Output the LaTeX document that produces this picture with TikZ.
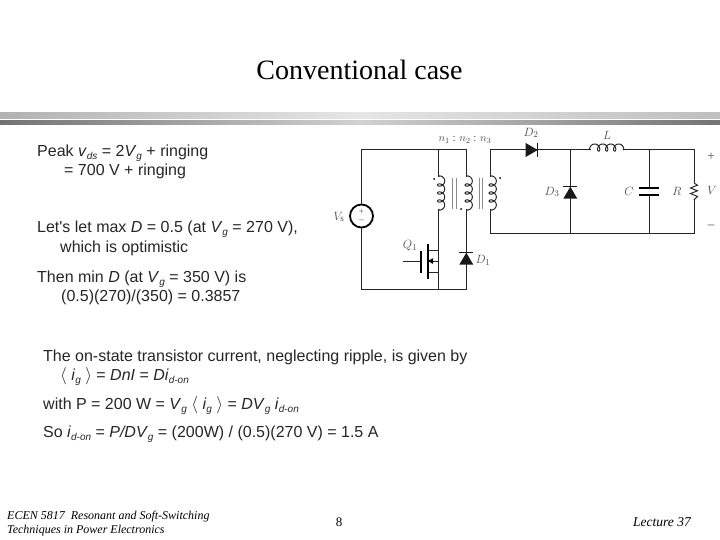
\documentclass[tikz,border=0pt]{standalone}
\usepackage{fontspec}
\setmainfont{Liberation Serif}
\newfontfamily\bodyfont{Liberation Sans}
\newcommand{\lowtext}[1]{\raisebox{-3pt}{\fontsize{10}{10}\selectfont\itshape #1}}
\newcommand{\mth}[1]{\textit{#1}}
\tikzset{
  bodyline/.style={anchor=base west,inner sep=0pt,font=\bodyfont\fontsize{16}{18}\selectfont,text=black!85},
  footline/.style={anchor=base west,inner sep=0pt,font=\itshape\fontsize{12}{14}\selectfont},
  partlabel/.style={inner sep=0pt,font=\itshape\fontsize{13}{14}\selectfont,text=black!70},
  wire/.style={line width=1pt,black!85},
  pics/coilv/.style={code={
    \draw[wire] (0,0) -- plot[domain=60:1380,samples=160,variable=\t]
      ({3.6*(1-cos(\t))-1.2},{\t/45-2.8*sin(\t)}) -- (0,32);
  }},
  pics/diodeup/.style={code={
    \fill[black!90] (-6,-7) -- (6,0) -- (-6,7) -- cycle;
    \draw[line width=1.2pt,black!90] (6,-7) -- (6,7);
  }},
}
\begin{document}
\begin{tikzpicture}[x=1pt,y=-1pt]
  \useasboundingbox (0,0) rectangle (720,540);
  % header bands
  \fill[left color=black!30,right color=black!10] (0,113) rectangle (360,119);
  \fill[left color=black!10,right color=black!25] (360,113) rectangle (720,119);
  \fill[left color=black!55,right color=black!18] (0,121) rectangle (360,125);
  \fill[left color=black!18,right color=black!55] (360,121) rectangle (720,125);
  \node[anchor=base,inner sep=0pt,font=\fontsize{28}{30}\selectfont] (title) at (359.5,80) {Conventional case};
  % text on the left
  \node[bodyline] (peak) at (37,156.5) {Peak \mth{v}\lowtext{ds} = 2\mth{V}\lowtext{g} + ringing};
  \node[bodyline] (peakb) at (64,176) {= 700 V + ringing};
  \node[bodyline] (maxd) at (37,233) {Let's let max \mth{D} = 0.5 (at \mth{V}\lowtext{g} = 270 V),};
  \node[bodyline] (maxdb) at (60,252) {which is optimistic};
  \node[bodyline] (mind) at (37,282) {Then min \mth{D} (at \mth{V}\lowtext{g} = 350 V) is};
  \node[bodyline] (mindb) at (61,301) {(0.5)(270)/(350) = 0.3857};
  \node[bodyline] (onst) at (43,361) {The on-state transistor current, neglecting ripple, is given by};
  \node[bodyline] (onstb) at (60,380.5) {$\langle$ \mth{i}\lowtext{g} $\rangle$ = \mth{DnI} = \mth{Di}\lowtext{d-on}};
  \node[bodyline] (power) at (43,409) {with P = 200 W = \mth{V}\lowtext{g} $\langle$ \mth{i}\lowtext{g} $\rangle$ = \mth{DV}\lowtext{g} \mth{i}\lowtext{d-on}};
  \node[bodyline] (idon) at (43,437.5) {So \mth{i}\lowtext{d-on} = \mth{P/DV}\lowtext{g} = (200W) / (0.5)(270 V) = 1.5 A};
  % footer
  \node[footline] (foota) at (7,519) {ECEN 5817~ Resonant and Soft-Switching};
  \node[footline] (footb) at (7,533) {Techniques in Power Electronics};
  \node[anchor=base,inner sep=0pt,font=\fontsize{13}{14}\selectfont] (page) at (339,526) {8};
  \node[footline,anchor=base east,font=\itshape\fontsize{13.5}{14}\selectfont] (lect) at (691,526) {Lecture 37};
  % circuit points
  \path
    (361.5,150) coordinate (tl)
    (361.5,289) coordinate (bl)
    (438.7,150) coordinate (pa)
    (438.7,177) coordinate (pb)
    (438.7,209) coordinate (pc)
    (438.7,289) coordinate (pd)
    (466.3,150) coordinate (sa)
    (466.3,177) coordinate (sb)
    (466.3,209) coordinate (sc)
    (466.3,289) coordinate (sd)
    (490.3,150) coordinate (ta)
    (490.3,177) coordinate (tb)
    (490.3,209) coordinate (tc)
    (490.3,233) coordinate (td)
    (570.3,150) coordinate (da)
    (570.3,233) coordinate (db)
    (590.7,150) coordinate (la)
    (622.7,150) coordinate (lb)
    (649.3,150) coordinate (ca)
    (649.3,188) coordinate (cb)
    (649.3,195) coordinate (cc)
    (649.3,233) coordinate (cd)
    (694,150) coordinate (ra)
    (694,183) coordinate (rb)
    (694,200) coordinate (rc)
    (694,233) coordinate (rd)
    (438.7,250.7) coordinate (qd)
    (438.7,272) coordinate (qs)
    (438.7,261) coordinate (qm)
    (427.7,250.7) coordinate (chd)
    (427.7,272) coordinate (chs)
    (427.7,261) coordinate (chm)
    (427.7,244) coordinate (cht)
    (427.7,279) coordinate (chb)
    (421,251) coordinate (gt)
    (421,273) coordinate (gb)
    (421,261) coordinate (gm)
    (402.7,261) coordinate (gin);
  \node[circle,draw=black,line width=1.8pt,minimum size=23pt,inner sep=0pt] (Vs) at (361.5,216) {};
  \begin{scope}[wire]
    \draw (Vs.north) -- (tl) -- (sa) -- (sb);
    \draw (Vs.south) -- (bl) -- (sd) -- (sc);
    \draw (pa) -- (pb);
    \draw (pc) -- (pd);
    \draw (tb) -- (ta) -- (la);
    \draw (lb) -- (ra) -- (rb);
    \draw (tc) -- (td) -- (rd) -- (rc);
    \draw (da) -- (db);
    \draw (ca) -- (cb);
    \draw (cc) -- (cd);
    \draw (rb) -- ++(3.5,2.2) -- ++(-7,2.8) -- ++(7,2.8) -- ++(-7,2.8) -- ++(7,2.8) -- ++(-3.5,3.4) -- (rc);
    \draw (gin) -- (gm);
    \draw (chd) -- (qd);
    \draw (chs) -- (qs);
    \draw (qm) -- (chm);
  \end{scope}
  \fill[black] (427.7,261) -- (433,258.2) -- (433,263.8) -- cycle;
  \draw[line width=1.6pt] (gt) -- (gb);
  \draw[line width=1.6pt] (cht) -- (chb);
  \draw[line width=2.4pt] (639,188) -- (659,188);
  \draw[line width=2.4pt] (639,195) -- (659,195);
  % windings and core
  \pic at (pb) {coilv};
  \pic at (sb) {coilv};
  \pic at (tb) {coilv};
  \pic[rotate=90] at (la) {coilv};
  \draw[black!45,line width=0.9pt] (452.7,178) -- (452.7,209) (456.3,178) -- (456.3,209);
  \draw[black!45,line width=1.1pt] (479.5,178) -- (479.5,209) (482.5,178) -- (482.5,209);
  \fill (434,179) circle (1) (461,209) circle (1) (500,178) circle (1);
  % diodes
  \pic at (531.7,150) {diodeup};
  \pic[rotate=90] at (570.3,192.7) {diodeup};
  \pic[rotate=90] at (466.3,258.7) {diodeup};
  % part labels
  \node[partlabel] (lblV) at (339,217) {$V_{\mathrm{s}}$};
  \node[partlabel,font=\fontsize{9}{10}\selectfont] (lblp) at (361.5,212) {+};
  \node[partlabel,font=\fontsize{9}{10}\selectfont] (lblm) at (361.5,221) {--};
  \node[partlabel] (lblQ) at (410,246) {$Q_1$};
  \node[partlabel] (lblDa) at (483,260) {$D_1$};
  \node[partlabel] (lblDb) at (531,133) {$D_2$};
  \node[partlabel] (lblL) at (607,135) {$L$};
  \node[partlabel] (lblDc) at (552,192) {$D_3$};
  \node[partlabel] (lblC) at (629,191) {$C$};
  \node[partlabel] (lblR) at (677,191) {$R$};
  \node[partlabel] (lblVo) at (712,190) {$V$};
  \node[partlabel] (lblpl) at (711,157) {+};
  \node[partlabel] (lblmi) at (711,227) {--};
  \node[partlabel,font=\fontsize{11}{12}\selectfont] (lbln) at (465,140) {$n_1$ : $n_2$ : $n_3$};
\end{tikzpicture}
\end{document}
